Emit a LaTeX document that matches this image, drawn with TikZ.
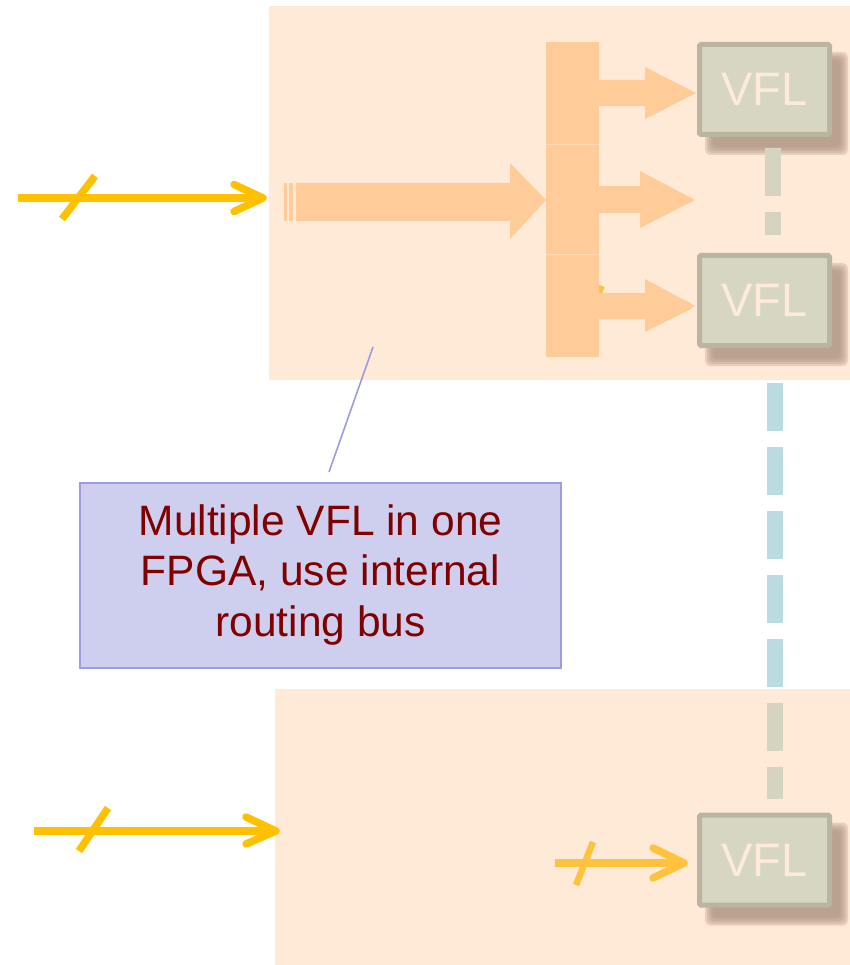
\documentclass[tikz,border=0pt]{standalone}
\usepackage{fontspec}
\setmainfont{Liberation Sans}
\usetikzlibrary{calc}

\definecolor{panelbg}{HTML}{FEEAD6}
\definecolor{busfill}{HTML}{FFCB99}
\definecolor{busseam}{HTML}{FFD9B5}
\definecolor{sigyellow}{HTML}{FFC000}
\definecolor{sigsoft}{HTML}{FFC23E}
\definecolor{vflfill}{HTML}{D7D6C2}
\definecolor{vflrim}{HTML}{B9B5A1}
\definecolor{vfltext}{HTML}{FDEAD9}
\definecolor{vflshadow}{HTML}{B09682}
\definecolor{linkblue}{HTML}{BADCE0}
\definecolor{linkgrey}{HTML}{D4D4C1}
\definecolor{notefill}{HTML}{CECEEE}
\definecolor{noterim}{HTML}{9C9CDF}
\definecolor{notetext}{HTML}{800000}

\tikzset{
  panel/.style={fill=panelbg, draw=none, inner sep=0pt, anchor=north west},
  vfl/.style={draw=vflrim, line width=5pt, fill=vflfill, rounded corners=1.5pt,
    minimum width=130pt, minimum height=90pt, inner sep=0pt, text=vfltext,
    font=\fontsize{47}{47}\selectfont},
  softshade/.style={fill=vflshadow, opacity=0.3, rounded corners=5pt},
  note/.style={fill=notefill, draw=noterim, line width=2pt, minimum width=481pt,
    minimum height=185pt, inner sep=0pt, align=center, text=notetext,
    font=\fontsize{42.5}{50.5}\selectfont},
  wire/.style={draw=sigyellow, line width=7.5pt},
  wiretip/.style={draw=sigyellow, line width=7.5pt, line cap=round, line join=round},
  softwire/.style={draw=sigsoft, line width=7.5pt},
  softtip/.style={draw=sigsoft, line width=7.5pt, line cap=round, line join=round},
  vlink/.style={line width=16pt, dash pattern=on 48pt off 16pt},
  pointer/.style={draw=noterim, line width=1.6pt},
}

\begin{document}
\begin{tikzpicture}[x=1pt, y=-1pt]
\useasboundingbox (0,0) rectangle (850,965);

% FPGA panels
\node[panel, minimum width=581pt, minimum height=374pt] (fpgaA) at (269,6) {};
\node[panel, minimum width=575pt, minimum height=276pt] (fpgaB) at (275,689) {};

% link between the two FPGAs (blue outside, grey inside the lower panel)
\coordinate (linkstart) at (775,383);
\coordinate (linkend) at (775,799);
\draw[vlink, draw=linkblue] (linkstart) -- (linkend);
\begin{scope}
  \clip (fpgaB.north west) rectangle (fpgaB.south east);
  \draw[vlink, draw=linkgrey] (linkstart) -- (linkend);
\end{scope}

% yellow signal underneath the lower bus branch
\coordinate (hidtail) at (556,306);
\coordinate (hidtip) at (688,306);
\draw[softwire] (hidtail) -- ($(hidtip)+(-2,0)$);
\draw[softtip] ($(hidtip)+(-34,-15)$) -- (hidtip) -- ($(hidtip)+(-34,17)$);
\draw[draw=sigsoft, line width=6pt] (583,328) -- (602,286);

% internal routing bus
\fill[busfill] (546,42) rectangle (599,357);
\draw[busseam, line width=0.8pt] (546,144) -- (599,144);
\draw[busseam, line width=0.8pt] (546,254) -- (599,254);
\node[inner sep=0pt, minimum width=53pt, minimum height=315pt, anchor=north west] (bus) at (546,42) {};

% wide input arrow into the bus
\fill[busfill] (284,183) rectangle (286.5,221);
\fill[busfill] (288.5,183) rectangle (292.5,221);
\fill[busfill] (296,183) -- (510,183) -- (510,163) -- (546,200) -- (510,239)
  -- (510,221) -- (296,221) -- cycle;

% soft drop shadows under the VFL blocks
\foreach \cy in {89.5,300.5,860}
  \foreach \g in {-4,-2,0,2,4}
    \fill[softshade] (764.5+12-67.5-\g, \cy+14-47.5-\g) rectangle (764.5+12+67.5+\g, \cy+14+47.5+\g);

% VFL blocks
\node[vfl] (v1) at (764.5,89.5) {VFL};
\node[vfl] (v2) at (764.5,300.5) {VFL};
\node[vfl] (v3) at (764.5,860) {VFL};

% bus branches
\fill[busfill] (599,80) -- (645,80) -- (645,67) -- (696,93) -- (645,119)
  -- (645,106) -- (599,106) -- cycle;
\fill[busfill] (599,186) -- (640,186) -- (640,171) -- (695,200) -- (640,228)
  -- (640,213) -- (599,213) -- cycle;
\fill[busfill] (599,293) -- (645,293) -- (645,279) -- (695,306) -- (645,332)
  -- (645,319) -- (599,319) -- cycle;

% dashed link between the VFL blocks of the upper FPGA
\draw[vlink, draw=linkgrey] ($(v1.south)+(8.5,11.5)$) -- ($(v2.north)+(8.5,-17.5)$);

% external inputs
\coordinate (inA) at (18,198);
\coordinate (tipA) at (263,198);
\draw[wire] (inA) -- ($(tipA)+(-2,0)$);
\draw[wiretip] ($(tipA)+(-29,-13.5)$) -- (tipA) -- ($(tipA)+(-29,13.5)$);
\draw[wire] (62,219) -- (95,176);

\coordinate (inB) at (34,831);
\coordinate (tipB) at (276,831);
\draw[wire] (inB) -- ($(tipB)+(-2,0)$);
\draw[wiretip] ($(tipB)+(-30,-14)$) -- (tipB) -- ($(tipB)+(-30,13)$);
\draw[wire] (79,851) -- (108,808);

% input of the lower VFL
\coordinate (inC) at (555,863);
\coordinate (tipC) at (684,863);
\draw[softwire] (inC) -- ($(tipC)+(-2,0)$);
\draw[softtip] ($(tipC)+(-31,-15)$) -- (tipC) -- ($(tipC)+(-31,15)$);
\draw[draw=sigsoft, line width=6.5pt] (576,885) -- (593,842);

% callout
\node[note] (note) at (320.5,575) {Multiple VFL in one\\FPGA, use internal\\routing bus};
\coordinate (ptrfoot) at (329,472);
\coordinate (ptrtip) at (373,347);
\draw[pointer] (ptrfoot) -- (ptrtip);
\end{tikzpicture}
\end{document}
